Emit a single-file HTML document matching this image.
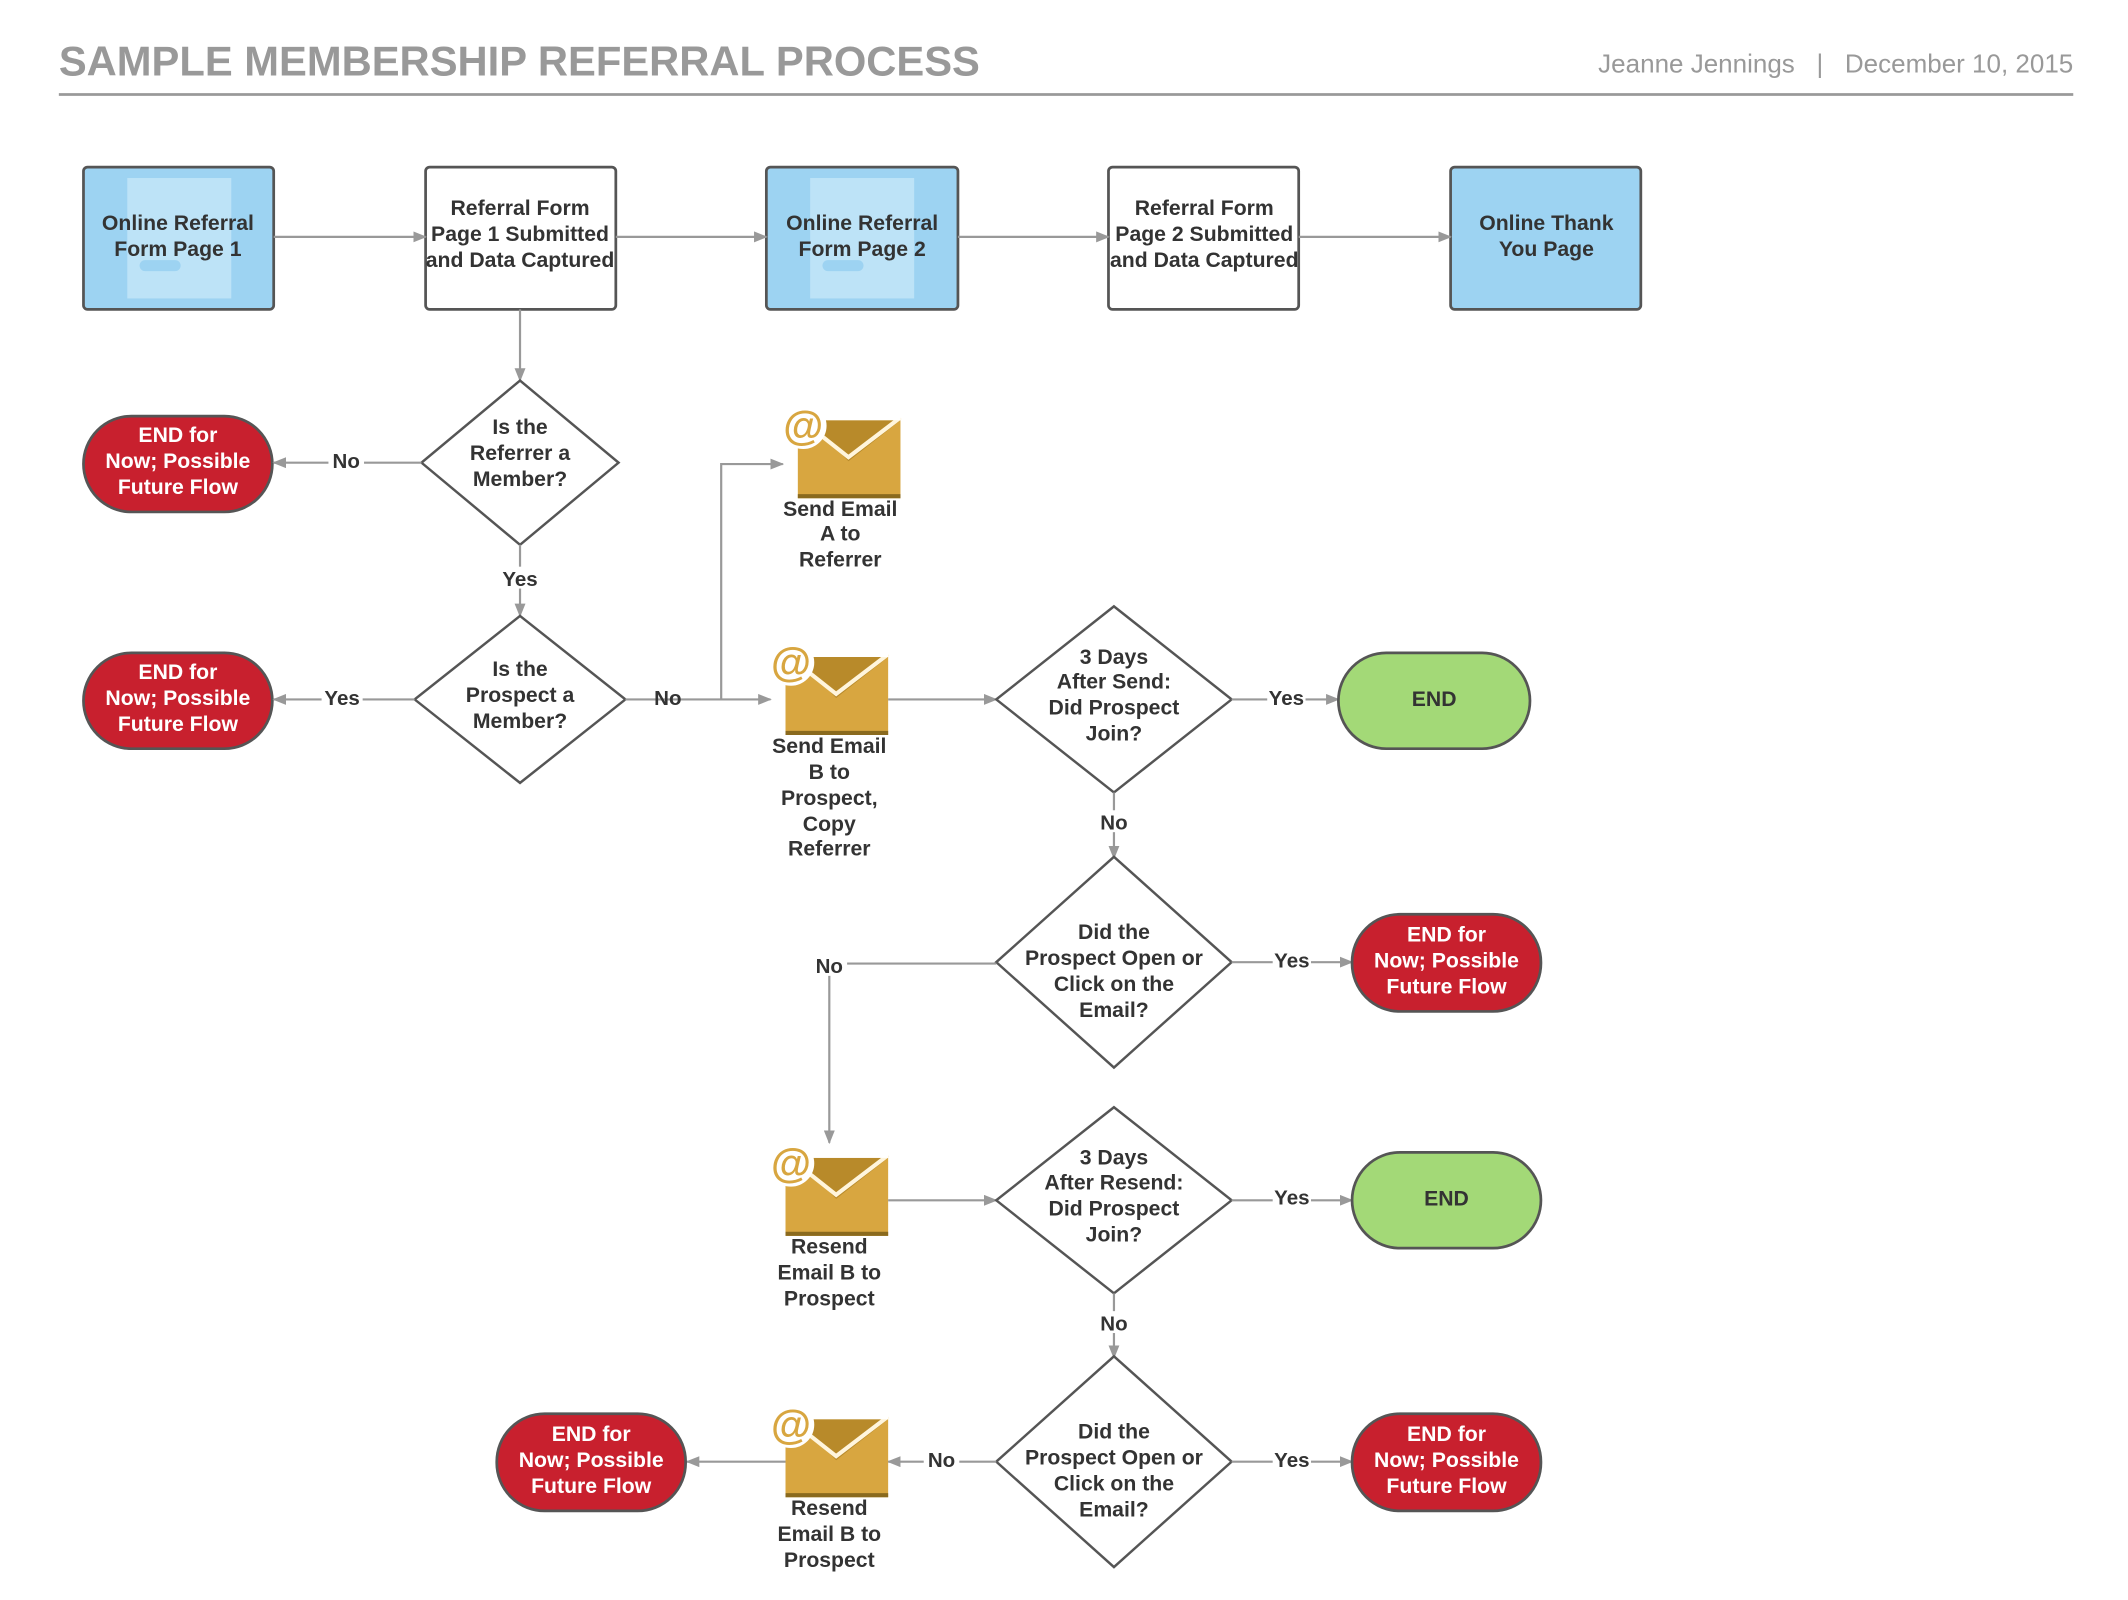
<!DOCTYPE html>
<html><head><meta charset="utf-8"><style>
html,body{margin:0;padding:0;background:#fff;}
svg{display:block;}
text{font-family:"Liberation Sans",Arial,sans-serif;}
.t{font-size:15.5px;font-weight:bold;fill:#333;text-anchor:middle;}
.w{font-size:15.5px;font-weight:bold;fill:#fff;text-anchor:middle;}
.l{font-size:15px;font-weight:bold;fill:#333;text-anchor:middle;}
.ln{stroke:#999;stroke-width:1.6;fill:none;}
.a{stroke:#999;stroke-width:1.6;fill:none;marker-end:url(#ah);}
.red{fill:#c8202e;stroke:#555;stroke-width:2;}
.grn{fill:#a3d977;stroke:#555;stroke-width:2;}
.dia{fill:#fff;stroke:#555;stroke-width:1.8;}
</style></head><body>
<svg width="2128" height="1600" viewBox="0 0 1555 1169" xmlns="http://www.w3.org/2000/svg">
<defs>
<marker id="ah" markerWidth="10" markerHeight="8" refX="9" refY="4" orient="auto" markerUnits="userSpaceOnUse">
<path d="M0,0 L10,4 L0,8 Z" fill="#999"/></marker>
<g id="env">
<rect x="0" y="0" width="75" height="57" fill="#d8a640"/>
<rect x="0" y="54" width="75" height="3" fill="#8a6a1e"/>
<polygon points="8,0 75,0 37,30" fill="#b88a2a"/>
<polyline points="8,4 37,27 75,-2" fill="none" stroke="#fff5dc" stroke-width="3"/>
<rect x="0" y="-4" width="75" height="4" fill="#fff"/>
<circle cx="4" cy="4" r="17" fill="#fff"/>
<text x="4" y="14" font-size="30" font-weight="bold" fill="#d8a640" text-anchor="middle">@</text>
</g>
</defs>

<text x="43" y="55" font-size="30.5" font-weight="bold" fill="#999">SAMPLE MEMBERSHIP REFERRAL PROCESS</text>
<text x="1515" y="53" font-size="19" fill="#999" text-anchor="end">Jeanne Jennings &#160;&#160;|&#160;&#160; December 10, 2015</text>
<line x1="43" y1="69" x2="1515" y2="69" stroke="#999" stroke-width="2"/>

<!-- row 1 -->
<rect x="61" y="122" width="139" height="104" rx="3" fill="#9dd3f2" stroke="#555" stroke-width="2"/>
<rect x="93" y="130" width="76" height="88" fill="#bde3f7"/>
<rect x="102" y="190" width="30" height="8" rx="4" fill="#9dd3f2"/>
<text class="t" x="130" y="168">Online Referral</text><text class="t" x="130" y="187">Form Page 1</text>

<rect x="311" y="122" width="139" height="104" rx="3" fill="#fff" stroke="#555" stroke-width="2"/>
<text class="t" x="380" y="157">Referral Form</text><text class="t" x="380" y="176">Page 1 Submitted</text><text class="t" x="380" y="195">and Data Captured</text>

<rect x="560" y="122" width="140" height="104" rx="3" fill="#9dd3f2" stroke="#555" stroke-width="2"/>
<rect x="592" y="130" width="76" height="88" fill="#bde3f7"/>
<rect x="601" y="190" width="30" height="8" rx="4" fill="#9dd3f2"/>
<text class="t" x="630" y="168">Online Referral</text><text class="t" x="630" y="187">Form Page 2</text>

<rect x="810" y="122" width="139" height="104" rx="3" fill="#fff" stroke="#555" stroke-width="2"/>
<text class="t" x="880" y="157">Referral Form</text><text class="t" x="880" y="176">Page 2 Submitted</text><text class="t" x="880" y="195">and Data Captured</text>

<rect x="1060" y="122" width="139" height="104" rx="3" fill="#9dd3f2" stroke="#555" stroke-width="2"/>
<text class="t" x="1130" y="168">Online Thank</text><text class="t" x="1130" y="187">You Page</text>

<line class="a" x1="200" y1="173" x2="311" y2="173"/>
<line class="a" x1="450" y1="173" x2="560" y2="173"/>
<line class="a" x1="700" y1="173" x2="810" y2="173"/>
<line class="a" x1="949" y1="173" x2="1060" y2="173"/>
<line class="a" x1="380" y1="226" x2="380" y2="278"/>

<!-- diamond 1 -->
<polygon class="dia" points="380,278 452,338 380,398 308,338"/>
<text class="t" x="380" y="317">Is the</text><text class="t" x="380" y="336">Referrer a</text><text class="t" x="380" y="355">Member?</text>
<rect class="red" x="61" y="304" width="138" height="70" rx="35"/>
<text class="w" x="130" y="323">END for</text><text class="w" x="130" y="342">Now; Possible</text><text class="w" x="130" y="361">Future Flow</text>
<line class="a" x1="308" y1="338" x2="200" y2="338"/>
<rect x="240" y="328" width="26" height="16" fill="#fff"/><text class="l" x="253" y="342">No</text>
<line class="a" x1="380" y1="398" x2="380" y2="450"/>
<rect x="364" y="414" width="32" height="16" fill="#fff"/><text class="l" x="380" y="428">Yes</text>

<!-- diamond 2 -->
<polygon class="dia" points="380,450 457,511 380,572 303,511"/>
<text class="t" x="380" y="494">Is the</text><text class="t" x="380" y="513">Prospect a</text><text class="t" x="380" y="532">Member?</text>
<rect class="red" x="61" y="477" width="138" height="70" rx="35"/>
<text class="w" x="130" y="496">END for</text><text class="w" x="130" y="515">Now; Possible</text><text class="w" x="130" y="534">Future Flow</text>
<line class="a" x1="303" y1="511" x2="200" y2="511"/>
<rect x="235" y="502" width="30" height="16" fill="#fff"/><text class="l" x="250" y="515">Yes</text>
<line class="a" x1="457" y1="511" x2="563" y2="511"/>
<polyline class="a" points="527,511 527,339 572,339"/>
<text class="l" x="488" y="515">No</text>

<!-- email A -->
<use href="#env" x="583" y="307"/>
<text class="t" x="614" y="377">Send Email</text><text class="t" x="614" y="395">A to</text><text class="t" x="614" y="414">Referrer</text>

<!-- email B -->
<use href="#env" x="574" y="480"/>
<text class="t" x="606" y="550">Send Email</text><text class="t" x="606" y="569">B to</text><text class="t" x="606" y="588">Prospect,</text><text class="t" x="606" y="607">Copy</text><text class="t" x="606" y="625">Referrer</text>
<line class="a" x1="649" y1="511" x2="728" y2="511"/>

<!-- diamond 3 -->
<polygon class="dia" points="814,443 900,511 814,579 728,511"/>
<text class="t" x="814" y="485">3 Days</text><text class="t" x="814" y="503">After Send:</text><text class="t" x="814" y="522">Did Prospect</text><text class="t" x="814" y="541">Join?</text>
<line class="a" x1="900" y1="511" x2="978" y2="511"/>
<rect x="926" y="502" width="28" height="16" fill="#fff"/><text class="l" x="940" y="515">Yes</text>
<rect class="grn" x="978" y="477" width="140" height="70" rx="35"/>
<text class="t" x="1048" y="516">END</text>
<line class="a" x1="814" y1="579" x2="814" y2="627"/>
<rect x="801" y="592" width="26" height="16" fill="#fff"/><text class="l" x="814" y="606">No</text>

<!-- diamond 4 -->
<polygon class="dia" points="814,626 900,703 814,780 728,703"/>
<text class="t" x="814" y="686">Did the</text><text class="t" x="814" y="705">Prospect Open or</text><text class="t" x="814" y="724">Click on the</text><text class="t" x="814" y="743">Email?</text>
<line class="a" x1="900" y1="703" x2="988" y2="703"/>
<rect x="930" y="694" width="28" height="16" fill="#fff"/><text class="l" x="944" y="707">Yes</text>
<rect class="red" x="988" y="668" width="138" height="71" rx="35"/>
<text class="w" x="1057" y="688">END for</text><text class="w" x="1057" y="707">Now; Possible</text><text class="w" x="1057" y="726">Future Flow</text>
<polyline class="a" points="728,704 606,704 606,835"/>
<rect x="593" y="697" width="26" height="16" fill="#fff"/><text class="l" x="606" y="711">No</text>

<!-- resend 1 -->
<use href="#env" x="574" y="846"/>
<text class="t" x="606" y="916">Resend</text><text class="t" x="606" y="935">Email B to</text><text class="t" x="606" y="954">Prospect</text>
<line class="a" x1="649" y1="877" x2="728" y2="877"/>

<!-- diamond 5 -->
<polygon class="dia" points="814,809 900,877 814,945 728,877"/>
<text class="t" x="814" y="851">3 Days</text><text class="t" x="814" y="869">After Resend:</text><text class="t" x="814" y="888">Did Prospect</text><text class="t" x="814" y="907">Join?</text>
<line class="a" x1="900" y1="877" x2="988" y2="877"/>
<rect x="930" y="867" width="28" height="16" fill="#fff"/><text class="l" x="944" y="880">Yes</text>
<rect class="grn" x="988" y="842" width="138" height="70" rx="35"/>
<text class="t" x="1057" y="881">END</text>
<line class="a" x1="814" y1="945" x2="814" y2="992"/>
<rect x="801" y="958" width="26" height="16" fill="#fff"/><text class="l" x="814" y="972">No</text>

<!-- diamond 6 -->
<polygon class="dia" points="814,991 900,1068 814,1145 728,1068"/>
<text class="t" x="814" y="1051">Did the</text><text class="t" x="814" y="1070">Prospect Open or</text><text class="t" x="814" y="1089">Click on the</text><text class="t" x="814" y="1108">Email?</text>
<line class="a" x1="900" y1="1068" x2="988" y2="1068"/>
<rect x="930" y="1058" width="28" height="16" fill="#fff"/><text class="l" x="944" y="1072">Yes</text>
<rect class="red" x="988" y="1033" width="138" height="71" rx="35"/>
<text class="w" x="1057" y="1053">END for</text><text class="w" x="1057" y="1072">Now; Possible</text><text class="w" x="1057" y="1091">Future Flow</text>
<line class="a" x1="728" y1="1068" x2="649" y2="1068"/>
<rect x="675" y="1058" width="26" height="16" fill="#fff"/><text class="l" x="688" y="1072">No</text>

<!-- resend 2 -->
<use href="#env" x="574" y="1037"/>
<text class="t" x="606" y="1107">Resend</text><text class="t" x="606" y="1126">Email B to</text><text class="t" x="606" y="1145">Prospect</text>
<line class="a" x1="574" y1="1068" x2="502" y2="1068"/>
<rect class="red" x="363" y="1033" width="138" height="71" rx="35"/>
<text class="w" x="432" y="1053">END for</text><text class="w" x="432" y="1072">Now; Possible</text><text class="w" x="432" y="1091">Future Flow</text>
</svg>
</body></html>
